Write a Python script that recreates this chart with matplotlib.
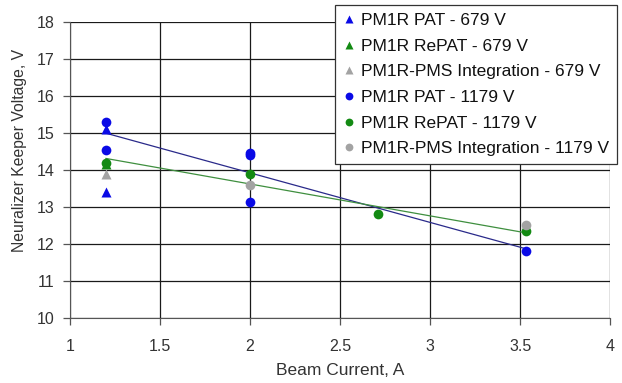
import numpy as np
import matplotlib.pyplot as plt

plt.rcParams['font.family'] = ['Liberation Sans', 'DejaVu Sans']

# keeper voltage vs beam current, 679 V and 1179 V beam
pat_679_x = [1.2, 1.2]
pat_679_y = [15.1, 13.4]
repat_679_x = [1.2]
repat_679_y = [14.15]
pms_679_x = [1.2]
pms_679_y = [13.9]

pat_1179_x = [1.2, 1.2, 2.0, 2.0, 2.0, 3.53]
pat_1179_y = [15.3, 14.55, 14.45, 14.4, 13.12, 11.8]
repat_1179_x = [1.2, 2.0, 2.71, 3.53]
repat_1179_y = [14.2, 13.9, 12.8, 12.34]
pms_1179_x = [2.0, 3.53]
pms_1179_y = [13.6, 12.5]

blue = '#0a0ae6'
green = '#138a13'
gray = '#a3a3a3'

fig = plt.figure(figsize=(6.22, 3.83), dpi=100)
ax = fig.add_axes([0.1125, 0.170, 0.8685, 0.7726])

# linear trend lines through the 1179 V PAT and RePAT points
for xs, ys, c in [(pat_1179_x, pat_1179_y, '#2a2a8a'),
                  (repat_1179_x, repat_1179_y, '#3f8f3f')]:
    k, b = np.polyfit(xs, ys, 1)
    xx = np.array([min(xs), max(xs)])
    ax.plot(xx, k * xx + b, color=c, lw=0.9, zorder=3)

ms_t = 6.5
ms_c = 7
ax.plot(pat_679_x, pat_679_y, '^', color=blue, ms=ms_t, mec='none', label='PM1R PAT - 679 V', zorder=4)
ax.plot(repat_679_x, repat_679_y, '^', color=green, ms=ms_t, mec='none', label='PM1R RePAT - 679 V', zorder=4)
ax.plot(pms_679_x, pms_679_y, '^', color=gray, ms=ms_t, mec='none', label='PM1R-PMS Integration - 679 V', zorder=4)
ax.plot(pat_1179_x, pat_1179_y, 'o', color=blue, ms=ms_c, mec='none', label='PM1R PAT - 1179 V', zorder=4)
ax.plot(repat_1179_x, repat_1179_y, 'o', color=green, ms=ms_c, mec='none', label='PM1R RePAT - 1179 V', zorder=4)
ax.plot(pms_1179_x, pms_1179_y, 'o', color=gray, ms=ms_c, mec='none', label='PM1R-PMS Integration - 1179 V', zorder=4)

ax.set_xlim(1, 4)
ax.set_ylim(10, 18)
ax.set_xticks(np.arange(1, 4.01, 0.5))
ax.set_xticklabels(['1', '1.5', '2', '2.5', '3', '3.5', '4'])
ax.set_yticks(range(10, 19))
ax.grid(True, color='#1a1a1a', lw=0.9)
ax.set_axisbelow(True)
for s in ['top', 'right']:
    ax.spines[s].set_visible(False)
for s in ['left', 'bottom']:
    ax.spines[s].set_color('#555555')
ax.tick_params(direction='out', length=5, width=0.9, color='#555555',
               labelsize=11.5, labelcolor='#333333')
ax.tick_params(axis='x', pad=10)
ax.tick_params(axis='y', pad=6)

ax.set_xlabel('Beam Current, A', fontsize=12.5, color='#333333', labelpad=7)
ax.set_ylabel('Neuralizer Keeper Voltage, V', fontsize=11.3, color='#333333')
ax.yaxis.set_label_coords(-0.08, 0.565)

leg = fig.legend(loc='upper right', bbox_to_anchor=(0.998, 0.995), fontsize=12.5,
                 frameon=True, fancybox=False, edgecolor='#333333', framealpha=1,
                 handlelength=0.7, handletextpad=0.35, markerscale=0.8,
                 labelspacing=0.6, borderpad=0.45, borderaxespad=0.2)
leg.get_frame().set_linewidth(0.9)
for t in leg.get_texts():
    t.set_color('#111111')

fig.savefig('out.png', dpi=100)
